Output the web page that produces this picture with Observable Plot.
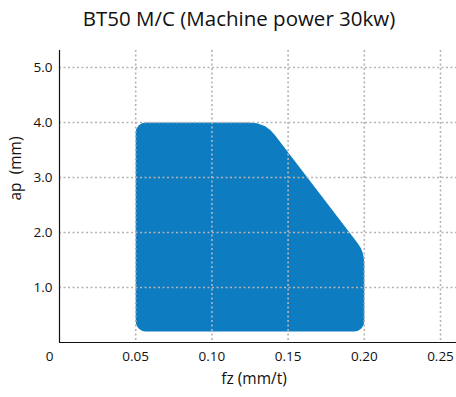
<!DOCTYPE html>
<html>
<head>
<meta charset="utf-8">
<script src="https://cdn.jsdelivr.net/npm/d3@7"></script>
<script src="https://cdn.jsdelivr.net/npm/@observablehq/plot@0.6"></script>
<style>
  html, body { margin: 0; padding: 0; background: #fff; }
  #wrap { position: relative; width: 456px; height: 397px; font-family: "Open Sans", sans-serif; }
  #title { position: absolute; left: 0; top: 4px; width: 478px; text-align: center; font-size: 20.5px; color: #111; white-space: nowrap; }
  #chart { position: absolute; left: 0; top: 40px; }
</style>
</head>
<body>
<div id="wrap">
  <div id="title">BT50 M/C (Machine power 30kw)</div>
  <div id="chart"></div>
</div>
<script>
// Region vertices (fz in mm/t, ap in mm)
const regionFz = [0.05, 0.05, 0.135, 0.20, 0.20];
const regionAp = [0.2, 4.0, 4.0, 1.65, 0.2];
const xTicks = [0, 0.05, 0.10, 0.15, 0.20, 0.25];
const yTicks = [1.0, 2.0, 3.0, 4.0, 5.0];
const xLabel = "fz (mm/t)";
const yLabel = "ap  (mm)";

const region = regionFz.map((fz, i) => ({fz, ap: regionAp[i]}));
const cornerRadii = [10, 10, 32, 32, 10];

// custom curve: closed polygon with rounded corners
function roundedClosed(radii) {
  return function(context) {
    let pts = [];
    return {
      areaStart() {}, areaEnd() {},
      lineStart() { pts = []; },
      point(x, y) { pts.push([+x, +y]); },
      lineEnd() {
        const n = pts.length;
        if (n < 3) return;
        const last = pts[n - 1], first = pts[0];
        context.moveTo((last[0] + first[0]) / 2, (last[1] + first[1]) / 2);
        for (let i = 0; i < n; i++) {
          const p = pts[i], q = pts[(i + 1) % n];
          context.arcTo(p[0], p[1], (p[0] + q[0]) / 2, (p[1] + q[1]) / 2, radii[i % radii.length]);
        }
        context.closePath();
      }
    };
  };
}

const font = "Open Sans, sans-serif";
const plot = Plot.plot({
  width: 456,
  height: 357,
  marginLeft: 59,
  marginRight: 0,
  marginTop: 10,
  marginBottom: 55,
  style: {fontFamily: font, fontSize: "13px", color: "#111", background: "#fff", overflow: "visible"},
  x: {domain: [0, 0.2605]},
  y: {domain: [0, 5.31]},
  marks: [
    Plot.line(region, {x: "fz", y: "ap", fill: "#0e7cc1", stroke: "none", curve: roundedClosed(cornerRadii)}),
    Plot.gridX(xTicks.filter(d => d > 0), {stroke: "#b4b4b4", strokeOpacity: 1, strokeWidth: 1.6, strokeDasharray: "2,2.5"}),
    Plot.gridY(yTicks, {stroke: "#b4b4b4", strokeOpacity: 1, strokeWidth: 1.6, strokeDasharray: "2,2.5"}),
    Plot.ruleX([0], {stroke: "#111", strokeWidth: 1.2}),
    Plot.ruleY([0], {stroke: "#111", strokeWidth: 1.2}),
    Plot.axisX(xTicks.filter(d => d > 0), {tickSize: 0, tickPadding: 9, tickFormat: d => d.toFixed(2), label: null, fontSize: 13.5}),
    Plot.axisX([0], {tickSize: 0, tickPadding: 9, tickFormat: d => "0", label: null, dx: -10, fontSize: 13.5}),
    Plot.axisY(yTicks, {tickSize: 0, tickPadding: 7, tickFormat: d => d.toFixed(1), label: null, fontSize: 13.5}),
    Plot.text([xLabel], {frameAnchor: "bottom", dy: 41, dx: -4, fontSize: 15.5, text: d => d}),
    Plot.text([yLabel], {frameAnchor: "left", dx: -43, dy: 4, rotate: -90, fontSize: 15.5, text: d => d})
  ]
});
document.getElementById("chart").appendChild(plot);
</script>
</body>
</html>
